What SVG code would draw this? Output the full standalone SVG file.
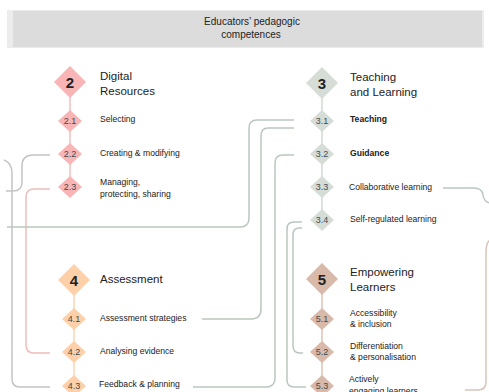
<svg xmlns="http://www.w3.org/2000/svg" width="489" height="392" viewBox="0 0 489 392">
<style>
text{font-family:"Liberation Sans",Arial,sans-serif;fill:#222}
.t{font-size:11.5px}
.s{font-size:8.6px}
.n{font-size:15px;font-weight:bold;text-anchor:middle}
.sn{font-size:9px;text-anchor:middle;fill:#484848}
.h{font-size:10px;text-anchor:middle}
.c2{fill:#f9b5b5}.c3{fill:#d6ddd7}.c4{fill:#fdd0aa}.c5{fill:#d9b9aa}
.k{fill:none;stroke-width:1.5}
.g{stroke:#c4c4c4}.gg{stroke:#b9c7bd}.pk{stroke:#f0bcbc}.tn{stroke:#d8c3b9}
.st2{stroke:#f6bdbd;stroke-width:1.5}.st3{stroke:#d0d8d2;stroke-width:1.5}.st4{stroke:#fcd5b3;stroke-width:1.5}.st5{stroke:#dcc3b7;stroke-width:1.5}
</style>
<defs>
<polygon id="dm" points="0,-16 16,0 0,16 -16,0"/>
<polygon id="ds" points="0,-11 12,0 0,11 -12,0"/>
</defs>
<g id="header">
<rect x="7" y="10" width="477" height="38" fill="#ececec"/>
<rect x="13" y="11" width="469" height="36" fill="#dcdcdc"/>
<text class="h" x="252" y="25">Educators’ pedagogic</text>
<text class="h" x="251" y="38">competences</text>
</g>
<g id="connectors">
<path class="k g" d="M50,155 L33,155 Q22,155 22,166 L22,182 Q22,191 13,191 L6,191"/>
<path class="k g" d="M4,160 Q12,163 12,173 L12,379 Q12,387 20,387 L50,387"/>
<path class="k pk" d="M50,189 L34,189 Q26,189 26,197 L26,345 Q26,353 34,353 L50,353"/>
<path class="k gg" d="M7,227 L240,227 Q249,227 249,218 L249,128 Q249,120 257,120 L294,120"/>
<path class="k gg" d="M294,128 L268,128 Q261,128 261,136 L261,309 Q261,319 251,319 L202,319"/>
<path class="k gg" d="M294,155 L283,155 Q275,155 275,163 L275,378 Q275,387 266,387 L193,387"/>
<path class="k gg" d="M302,222 L294,222 Q287,222 287,229 L287,380 Q287,387 294,387 L306,387"/>
<path class="k gg" d="M302,228 L299,228 Q293,228 293,235 L293,346 Q293,353 300,353 L303,353"/>
<path class="k gg" d="M443,188 L474,188 Q482,188 483,195 Q484,202 490,203"/>
<path class="k tn" d="M490,240 Q486,243 486,252 L486,382 Q486,390 478,390 L465,390"/>
</g>
<g id="n2">
<line class="st2" x1="70" y1="82" x2="70" y2="187"/>
<use href="#dm" class="c2" transform="translate(70,82)"/>
<text class="n" x="70" y="87.5">2</text>
<text class="t" x="100" y="80">Digital</text>
<text class="t" x="100" y="95">Resources</text>
</g>
<g id="n21"><use href="#ds" class="c2" transform="translate(70,121)"/><text class="sn" x="70" y="124.2">2.1</text><text class="s" x="100" y="122">Selecting</text></g>
<g id="n22"><use href="#ds" class="c2" transform="translate(70,154)"/><text class="sn" x="70" y="157.2">2.2</text><text class="s" x="100" y="156">Creating &amp; modifying</text></g>
<g id="n23"><use href="#ds" class="c2" transform="translate(70,187)"/><text class="sn" x="70" y="190.2">2.3</text><text class="s" x="100" y="185">Managing,</text><text class="s" x="100" y="197">protecting, sharing</text></g>
<g id="n3">
<line class="st3" x1="322" y1="83" x2="322" y2="220"/>
<use href="#dm" class="c3" transform="translate(322,83)"/>
<text class="n" x="322" y="88.5">3</text>
<text class="t" x="350" y="81">Teaching</text>
<text class="t" x="350" y="96">and Learning</text>
</g>
<g id="n31"><use href="#ds" class="c3" transform="translate(322,121)"/><text class="sn" x="322" y="124.2">3.1</text><text class="s" x="350" y="122" font-weight="bold">Teaching</text></g>
<g id="n32"><use href="#ds" class="c3" transform="translate(322,154)"/><text class="sn" x="322" y="157.2">3.2</text><text class="s" x="350" y="156" font-weight="bold">Guidance</text></g>
<g id="n33"><use href="#ds" class="c3" transform="translate(322,187)"/><text class="sn" x="322" y="190.2">3.3</text><text class="s" x="349" y="190">Collaborative learning</text></g>
<g id="n34"><use href="#ds" class="c3" transform="translate(322,220)"/><text class="sn" x="322" y="223.2">3.4</text><text class="s" x="350" y="222">Self-regulated learning</text></g>
<g id="n4">
<line class="st4" x1="74" y1="280" x2="74" y2="386"/>
<use href="#dm" class="c4" transform="translate(74,280)"/>
<text class="n" x="74" y="285.5">4</text>
<text class="t" x="100" y="283">Assessment</text>
</g>
<g id="n41"><use href="#ds" class="c4" transform="translate(74,319)"/><text class="sn" x="74" y="322.2">4.1</text><text class="s" x="100" y="321">Assessment strategies</text></g>
<g id="n42"><use href="#ds" class="c4" transform="translate(74,352)"/><text class="sn" x="74" y="355.2">4.2</text><text class="s" x="100" y="354">Analysing evidence</text></g>
<g id="n43"><use href="#ds" class="c4" transform="translate(74,386)"/><text class="sn" x="74" y="389.2">4.3</text><text class="s" x="99" y="387">Feedback &amp; planning</text></g>
<g id="n5">
<line class="st5" x1="322" y1="279" x2="322" y2="386"/>
<use href="#dm" class="c5" transform="translate(322,279)"/>
<text class="n" x="322" y="284.5">5</text>
<text class="t" x="350" y="276">Empowering</text>
<text class="t" x="350" y="291">Learners</text>
</g>
<g id="n51"><use href="#ds" class="c5" transform="translate(322,319)"/><text class="sn" x="322" y="322.2">5.1</text><text class="s" x="350" y="316">Accessibility</text><text class="s" x="350" y="327">&amp; inclusion</text></g>
<g id="n52"><use href="#ds" class="c5" transform="translate(322,352)"/><text class="sn" x="322" y="355.2">5.2</text><text class="s" x="350" y="349">Differentiation</text><text class="s" x="350" y="360">&amp; personalisation</text></g>
<g id="n53"><use href="#ds" class="c5" transform="translate(322,386)"/><text class="sn" x="322" y="389.2">5.3</text><text class="s" x="349" y="382">Actively</text><text class="s" x="349" y="393.5">engaging learners</text></g>
</svg>
